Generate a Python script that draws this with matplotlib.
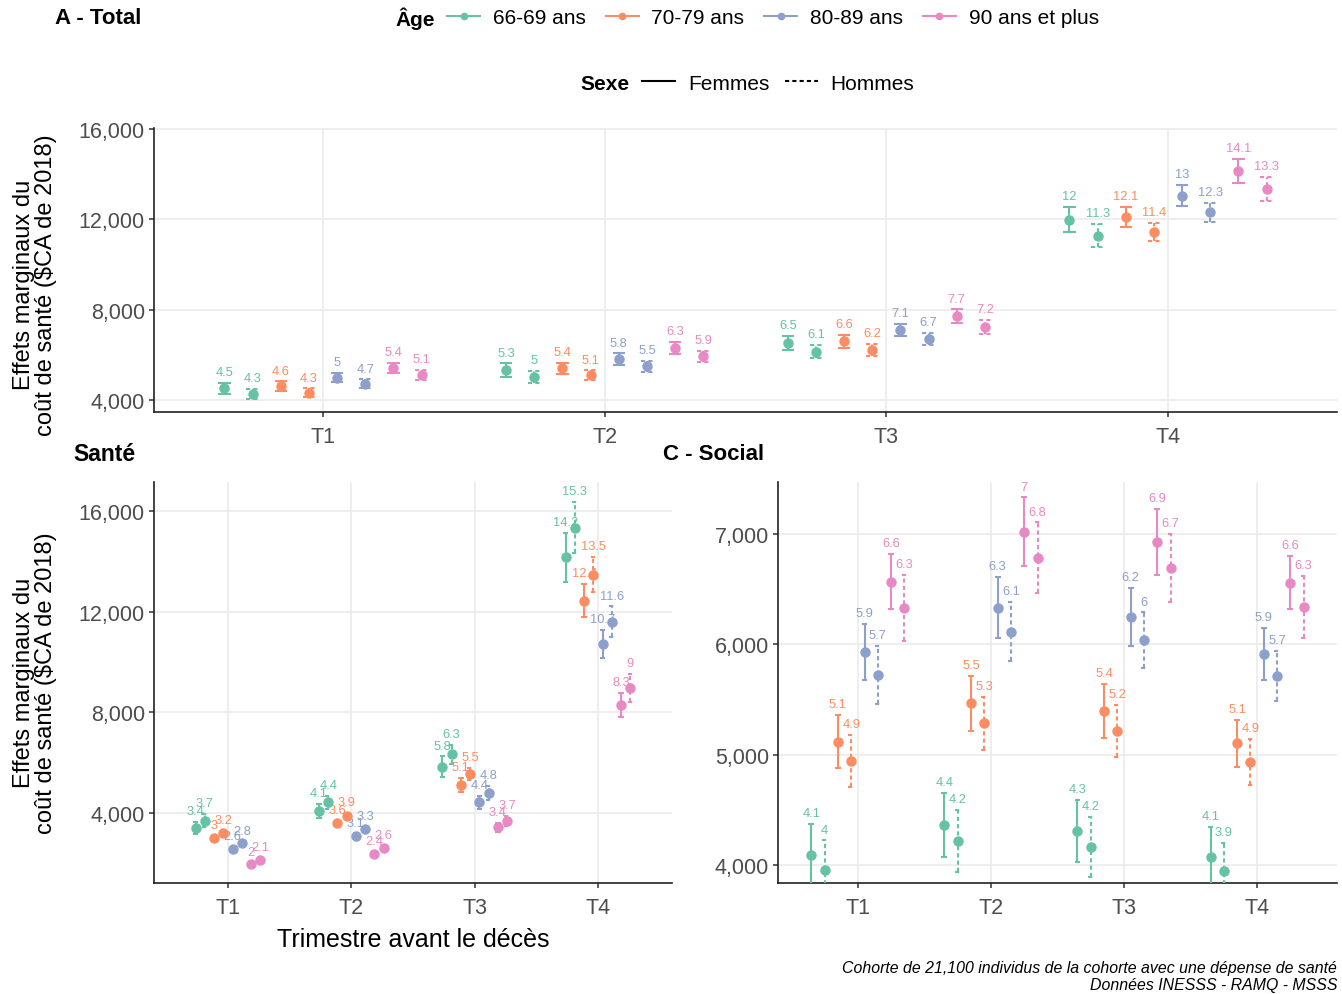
import matplotlib
matplotlib.use("Agg")
import matplotlib.pyplot as plt
from matplotlib.lines import Line2D
from matplotlib.ticker import FuncFormatter
import numpy as np

plt.rcParams['font.family'] = ['Liberation Sans', 'DejaVu Sans']

# ---------------- data ----------------
trimestres = ["T1", "T2", "T3", "T4"]
ages = ["66-69 ans", "70-79 ans", "80-89 ans", "90 ans et plus"]
sexes = ["Femmes", "Hommes"]
age_colors = ["#66C2A5", "#FC8D62", "#8DA0CB", "#E78AC3"]

# Panel A - Total : rows = age groups, columns = T1..T4
total_femmes = [[4520, 5330, 6520, 11980],
                [4620, 5400, 6600, 12110],
                [4990, 5810, 7110, 13040],
                [5420, 6310, 7710, 14140]]
total_hommes = [[4280, 5020, 6140, 11280],
                [4320, 5090, 6230, 11440],
                [4710, 5500, 6710, 12310],
                [5100, 5930, 7240, 13330]]
total_ci_femmes = [[240, 290, 320, 550],
                   [200, 230, 280, 430],
                   [210, 250, 270, 470],
                   [230, 270, 300, 530]]
total_ci_hommes = [[220, 260, 300, 500],
                   [190, 220, 270, 400],
                   [200, 240, 270, 430],
                   [220, 260, 300, 530]]

# Panel B - Santé
sante_femmes = [[3384, 4080, 5835, 14171],
                [2975, 3570, 5104, 12430],
                [2562, 3079, 4405, 10724],
                [1966, 2363, 3412, 8298]]
sante_hommes = [[3675, 4405, 6324, 15348],
                [3185, 3873, 5530, 13479],
                [2776, 3344, 4775, 11610],
                [2125, 2578, 3675, 8974]]
sante_ci_femmes = [[245, 280, 400, 975],
                   [80, 120, 285, 660],
                   [60, 90, 260, 560],
                   [50, 70, 170, 480]]
sante_ci_hommes = [[260, 265, 370, 1020],
                   [90, 130, 250, 700],
                   [70, 100, 290, 600],
                   [60, 80, 200, 560]]

# Panel C - Social
social_femmes = [[4090, 4368, 4311, 4078],
                 [5119, 5466, 5400, 5104],
                 [5930, 6332, 6247, 5912],
                 [6567, 7020, 6929, 6558]]
social_hommes = [[3960, 4220, 4166, 3946],
                 [4944, 5285, 5216, 4938],
                 [5722, 6115, 6039, 5713],
                 [6330, 6784, 6693, 6338]]
social_ci_femmes = [[281, 290, 280, 272],
                    [241, 250, 245, 215],
                    [257, 275, 265, 234],
                    [250, 310, 300, 240]]
social_ci_hommes = [[265, 278, 270, 253],
                    [235, 240, 237, 208],
                    [265, 267, 250, 230],
                    [300, 320, 307, 280]]

# ---------------- figure ----------------
W, H = 1342, 995
fig = plt.figure(figsize=(W / 100, H / 100), dpi=100)


def rect(left, top, right, bottom):
    return [left / W, 1 - bottom / H, (right - left) / W, (bottom - top) / H]


axA = fig.add_axes(rect(154, 129.3, 1337, 413.3))
axB = fig.add_axes(rect(154, 483.3, 672, 884))
axC = fig.add_axes(rect(778, 483.3, 1337, 884))

dash = (0, (2, 1.5))
TICK_GREY = "#4D4D4D"


def fmt_label(v):
    return f"{round(v / 1000, 1):g}"


def draw_panel(ax, est_f, est_h, ci_f, ci_h, dodge, yticks, ylim):
    xs = np.arange(1, len(trimestres) + 1)
    groups = []
    for a in range(len(ages)):
        groups.append((a, 0, est_f[a], ci_f[a]))
        groups.append((a, 1, est_h[a], ci_h[a]))
    n = len(groups)
    capw = 0.022
    for gi, (a, s, est, ci) in enumerate(groups):
        off = (gi - (n - 1) / 2) * dodge
        x = xs + off
        est = np.asarray(est, float)
        ci = np.asarray(ci, float)
        lo, hi = est - ci, est + ci
        c = age_colors[a]
        ls = '-' if s == 0 else dash
        ax.vlines(x, lo, hi, colors=c, linestyles=ls, lw=1.5, zorder=3)
        ax.hlines(np.concatenate([lo, hi]), np.concatenate([x, x]) - capw,
                  np.concatenate([x, x]) + capw, colors=c, linestyles=ls,
                  lw=1.5, zorder=3)
        ax.plot(x, est, 'o', color=c, ms=6.5, mec=c, zorder=4)
        for xi, e, h in zip(x, est, hi):
            t = ax.annotate(fmt_label(e), (xi, h), xytext=(0, 3.5),
                            textcoords='offset points', ha='center',
                            va='bottom', fontsize=9.3, color=c, zorder=2)
            t.set_clip_on(True)
    ax.set_xlim(0.4, 4.6)
    ax.set_xticks(xs)
    ax.set_xticklabels(trimestres)
    ax.set_yticks(yticks)
    ax.set_ylim(*ylim)
    ax.yaxis.set_major_formatter(FuncFormatter(lambda v, p: f"{v:,.0f}"))
    ax.grid(True, color="#EBEBEB", lw=1.2)
    ax.set_axisbelow(True)
    for sp in ("top", "right"):
        ax.spines[sp].set_visible(False)
    for sp in ("left", "bottom"):
        ax.spines[sp].set_linewidth(1.2)
        ax.spines[sp].set_color("#222222")
    ax.tick_params(axis='both', labelsize=15.5, labelcolor=TICK_GREY,
                   color="#333333", length=3.5, width=1.1)
    ax.tick_params(axis='y', pad=3)
    ax.tick_params(axis='x', pad=6.5)


draw_panel(axA, total_femmes, total_hommes, total_ci_femmes, total_ci_hommes,
           0.1, [4000, 8000, 12000, 16000], (3455, 16030))
draw_panel(axB, sante_femmes, sante_hommes, sante_ci_femmes, sante_ci_hommes,
           0.075, [4000, 8000, 12000, 16000], (1197, 17153))
draw_panel(axC, social_femmes, social_hommes, social_ci_femmes, social_ci_hommes,
           0.1, [4000, 5000, 6000, 7000], (3840, 7467))

# ---------------- titles / labels ----------------
fig.text(55 / W, 1 - 18 / H, "A - Total", ha='left', va='center',
         fontsize=16, fontweight='bold')
fig.text(73 / W, 1 - 455 / H, "Santé", ha='left', va='center',
         fontsize=16.5, fontweight='bold')
fig.text(663 / W, 1 - 455 / H, "C - Social", ha='left', va='center',
         fontsize=16, fontweight='bold')

ylab = "Effets marginaux du\ncoût de santé ($CA de 2018)"
fig.text(35 / W, 1 - 285 / H, ylab, rotation=90, ha='center', va='center',
         fontsize=17, linespacing=1.05, multialignment='center')
fig.text(35 / W, 1 - 683 / H, ylab, rotation=90, ha='center', va='center',
         fontsize=17, linespacing=1.05, multialignment='center')
fig.text(413 / W, 1 - 940 / H, "Trimestre avant le décès", ha='center',
         va='center', fontsize=18)

fig.text(1337 / W, 1 - 977 / H,
         "Cohorte de 21,100 individus de la cohorte avec une dépense de santé\n"
         "Données INESSS - RAMQ - MSSS",
         ha='right', va='center', style='italic', fontsize=11.4,
         multialignment='right', linespacing=1.1)

# ---------------- legends ----------------
fig.text(395 / W, 1 - 19 / H, "Âge", ha='left', va='center',
         fontsize=15, fontweight='bold')
age_handles = [Line2D([], [], color=c, marker='o', ms=4.5, lw=1.5)
               for c in age_colors]
fig.legend(age_handles, ages, loc='center left',
           bbox_to_anchor=(447 / W, 1 - 19 / H), ncol=4, frameon=False,
           fontsize=15, handlelength=1.6, handletextpad=0.6,
           columnspacing=0.95, borderpad=0, borderaxespad=0)

fig.text(580 / W, 1 - 84 / H, "Sexe", ha='left', va='center',
         fontsize=15, fontweight='bold')
sex_handles = [Line2D([], [], color='black', lw=1.5),
               Line2D([], [], color='black', lw=1.5, ls=dash)]
fig.legend(sex_handles, sexes, loc='center left',
           bbox_to_anchor=(642 / W, 1 - 84 / H), ncol=2, frameon=False,
           fontsize=15, handlelength=1.6, handletextpad=0.6,
           columnspacing=0.75, borderpad=0, borderaxespad=0)

fig.savefig("out.png", dpi=100)
